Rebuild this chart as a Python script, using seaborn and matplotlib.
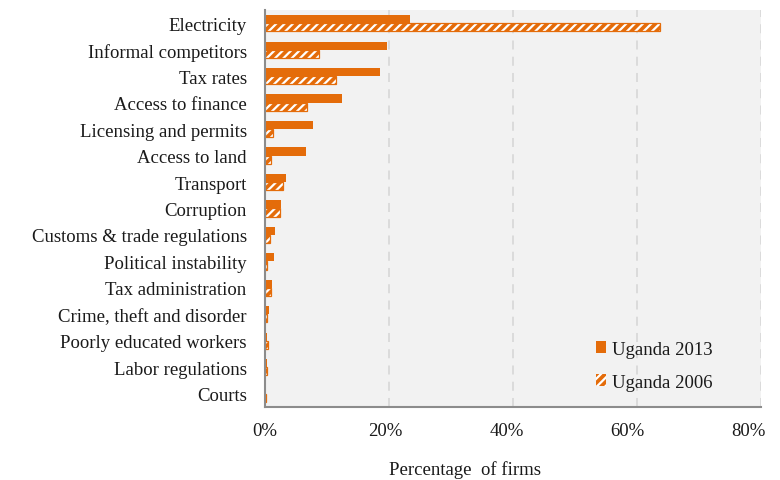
import matplotlib
matplotlib.use("Agg")
import matplotlib.pyplot as plt
from matplotlib.patches import Patch, Rectangle
from matplotlib.ticker import FuncFormatter
from matplotlib.transforms import ScaledTranslation
import seaborn as sns
import pandas as pd

# Share of firms naming each obstacle as the biggest constraint (%)
categories = [
    "Electricity", "Informal competitors", "Tax rates", "Access to finance",
    "Licensing and permits", "Access to land", "Transport", "Corruption",
    "Customs & trade regulations", "Political instability", "Tax administration",
    "Crime, theft and disorder", "Poorly educated workers", "Labor regulations",
    "Courts",
]
uganda_2013 = [23.4, 19.8, 18.6, 12.4, 7.8, 6.7, 3.4, 2.6, 1.6, 1.5, 1.1, 0.7, 0.3, 0.4, 0.05]
uganda_2006 = [63.8, 8.7, 11.5, 6.9, 1.3, 1.0, 2.9, 2.5, 0.9, 0.4, 1.0, 0.4, 0.5, 0.4, 0.25]
series_names = ["Uganda 2013", "Uganda 2006"]
x_ticks = [0, 20, 40, 60, 80]

ORANGE = "#E46C0A"
BG = "#F2F2F2"
TEXT = "#1a1a1a"
FS = 13.5

df = pd.DataFrame({
    "category": categories * 2,
    "value": uganda_2013 + uganda_2006,
    "series": [series_names[0]] * len(categories) + [series_names[1]] * len(categories),
})

sns.set_theme(style="white")
plt.rcParams["font.family"] = ["Liberation Serif", "DejaVu Serif"]
plt.rcParams["hatch.linewidth"] = 1.6

fig = plt.figure(figsize=(7.8, 4.81), dpi=100)
ax = fig.add_axes([0.3394, 0.152, 0.6356, 0.825])
ax.set_facecolor(BG)

sns.barplot(
    data=df, y="category", x="value", hue="series", order=categories,
    hue_order=series_names, palette=[ORANGE, ORANGE], orient="h",
    width=0.62, saturation=1, legend=False, ax=ax, linewidth=0,
)

# Hatch the 2006 bars: white diagonal pattern with an orange outline
n = len(categories)
bars = ax.patches[:2 * n]
for p in bars[n:]:
    p.set_hatch("////")
    p.set_edgecolor("white")
    p.set_linewidth(0)
    ax.add_patch(Rectangle(p.get_xy(), p.get_width(), p.get_height(),
                           fill=False, edgecolor=ORANGE, linewidth=0.9,
                           zorder=p.get_zorder() + 0.1))

ax.set_xlim(0, 80)
ax.set_ylim(n - 0.5, -0.5)
ax.set_xticks(x_ticks)
ax.xaxis.set_major_formatter(FuncFormatter(lambda v, _: f"{v:.0f}%"))

ax.grid(axis="x", color="#D9D9D9", linestyle=(0, (5, 4)), linewidth=1.3)
ax.grid(axis="y", visible=False)
ax.set_axisbelow(True)

for side in ("top", "right"):
    ax.spines[side].set_visible(False)
for side in ("left", "bottom"):
    ax.spines[side].set_color("#8C8C8C")
    ax.spines[side].set_linewidth(1.5)

ax.tick_params(axis="y", length=0, pad=13, labelsize=FS, labelcolor=TEXT)
ax.tick_params(axis="x", length=0, pad=11, labelsize=FS, labelcolor=TEXT)

# Percentage labels sit slightly left of their gridlines, more so to the right
for v, lab in zip(x_ticks, ax.get_xticklabels()):
    lab.set_transform(lab.get_transform() +
                      ScaledTranslation(-v * 0.0015, 0, fig.dpi_scale_trans))

ax.set_ylabel("")
ax.set_xlabel("Percentage  of firms", fontsize=FS, color=TEXT)
ax.xaxis.set_label_coords(0.404, -0.133)

handles = [
    Patch(facecolor=ORANGE, edgecolor=ORANGE, linewidth=0),
    Patch(facecolor=ORANGE, edgecolor="white", hatch="////", linewidth=0),
]
leg = ax.legend(handles, series_names, loc="center left", bbox_to_anchor=(0.634, 0.104),
                frameon=False, fontsize=FS, handlelength=0.55, handleheight=0.55,
                handletextpad=0.3, labelspacing=0.85)
for t in leg.get_texts():
    t.set_color(TEXT)

fig.savefig("out.png", dpi=100)
